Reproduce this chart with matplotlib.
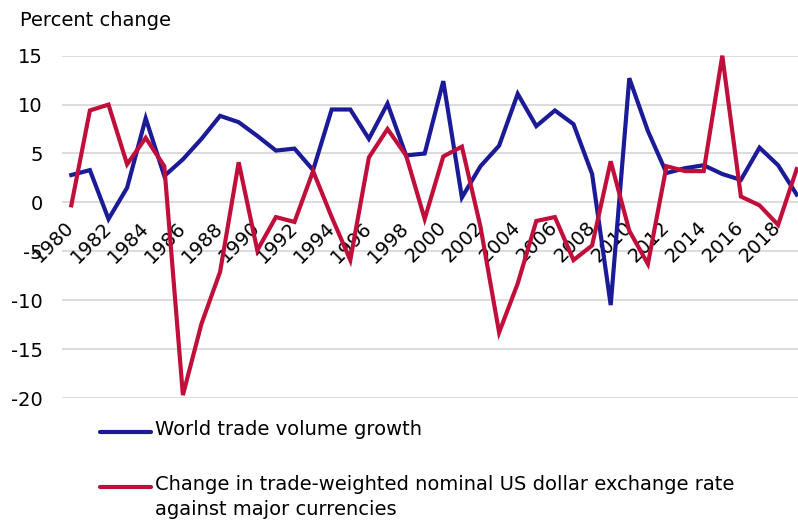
import matplotlib.pyplot as plt
from matplotlib.lines import Line2D

years = list(range(1980, 2020))
world_trade = [2.8, 3.3, -1.7, 1.5, 8.6, 2.7, 4.4, 6.5, 8.85, 8.2,
               6.8, 5.3, 5.5, 3.3, 9.5, 9.5, 6.5, 10.1, 4.8, 5.0,
               12.4, 0.5, 3.7, 5.8, 11.1, 7.8, 9.4, 8.0, 2.9, -10.5,
               12.7, 7.3, 3.0, 3.5, 3.8, 2.9, 2.3, 5.6, 3.8, 0.8]
usd_rate = [-0.3, 9.4, 10.0, 3.9, 6.6, 3.7, -19.7, -12.4, -7.1, 4.1,
            -4.9, -1.5, -2.0, 3.2, -1.5, -5.9, 4.6, 7.5, 4.8, -1.7,
            4.7, 5.7, -2.5, -13.3, -8.3, -1.9, -1.5, -5.9, -4.4, 4.2,
            -2.9, -6.3, 3.7, 3.2, 3.2, 15.0, 0.6, -0.3, -2.3, 3.4]
yticks = [15, 10, 5, 0, -5, -10, -15, -20]
labels = ['World trade volume growth',
          'Change in trade-weighted nominal US dollar exchange rate\nagainst major currencies']

blue = '#1b1a97'
red = '#c10f3b'
fs = 14

plt.rcParams['font.family'] = 'DejaVu Sans'

fig = plt.figure(figsize=(7.98, 5.24), dpi=100)
ax = fig.add_axes([62/798, (524-398)/524, (806-62)/798, (398-55.7)/524])

for y in yticks:
    ax.axhline(y, color='#d9d9d9', linewidth=1.3, zorder=0)

ax.plot(years, world_trade, color=blue, linewidth=3.0,
        solid_joinstyle='miter', clip_on=False, zorder=3)
ax.plot(years, usd_rate, color=red, linewidth=3.0,
        solid_joinstyle='miter', clip_on=False, zorder=3)

ax.spines['bottom'].set_position(('data', 0))
for s in ax.spines.values():
    s.set_visible(False)

ax.set_xlim(1979.5, 2019.5)
ax.set_ylim(-20, 15)
ax.set_yticks(yticks)
ax.set_yticklabels([str(v) for v in yticks], fontsize=fs)
ax.set_xticks(years[::2])
ax.set_xticklabels([str(y) for y in years[::2]], rotation=45, ha='right',
                   va='center', rotation_mode='anchor', fontsize=fs)
ax.tick_params(axis='both', length=0)
ax.tick_params(axis='y', pad=14)
ax.tick_params(axis='x', pad=16)

fig.text(20/798, 1 - 20/524, 'Percent change', fontsize=fs, va='center', ha='left')

# legend drawn by hand so the red handle sits on the first text line
for (col, lab, ypx) in [(blue, labels[0], 432), (red, labels[1], 487)]:
    fig.add_artist(Line2D([100/798, 151/798], [1 - ypx/524] * 2,
                          color=col, linewidth=3.0, solid_capstyle='round'))
    fig.text(155/798, 1 - (ypx - 12)/524, lab, fontsize=fs, va='top',
             ha='left', linespacing=1.4)

fig.savefig('out.png', dpi=100)
